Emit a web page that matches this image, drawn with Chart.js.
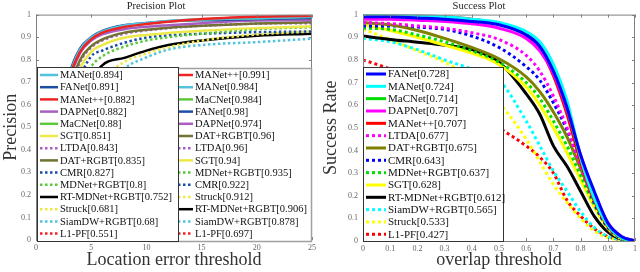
<!DOCTYPE html>
<html>
<head>
<meta charset="utf-8">
<script src="https://cdn.jsdelivr.net/npm/chart.js@4.4.1/dist/chart.umd.min.js"></script>
<style>
  html, body { margin: 0; padding: 0; background: #fff; }
  .wrap { display: flex; width: 640px; height: 272px; }
</style>
</head>
<body>
<div class="wrap">
  <canvas id="precChart" width="320" height="272"></canvas>
  <canvas id="succChart" width="320" height="272"></canvas>
</div>
<script>
// ---- precision plot data (location error threshold, px) ----
const precX = [0, 1, 2, 3, 4, 5, 6, 8, 10, 12, 15, 20, 25];
const pMANetPP = [0, 0.12, 0.42, 0.71, 0.835, 0.89, 0.92, 0.945, 0.958, 0.968, 0.98, 0.99, 0.995];
const pMANet   = [0, 0.13, 0.45, 0.72, 0.845, 0.897, 0.925, 0.952, 0.962, 0.972, 0.978, 0.984, 0.99];
const pMaCNet  = [0, 0.12, 0.44, 0.71, 0.84, 0.893, 0.922, 0.947, 0.96, 0.97, 0.978, 0.984, 0.99];
const pFANet   = [0, 0.14, 0.46, 0.73, 0.85, 0.9, 0.928, 0.953, 0.963, 0.97, 0.975, 0.98, 0.985];
const pDAPNet  = [0, 0.12, 0.43, 0.7, 0.83, 0.885, 0.912, 0.935, 0.946, 0.953, 0.962, 0.974, 0.975];
const pDAT     = [0, 0.1, 0.38, 0.66, 0.8, 0.86, 0.89, 0.92, 0.933, 0.942, 0.95, 0.96, 0.966];
const pLTDA    = [0, 0.1, 0.37, 0.65, 0.79, 0.855, 0.885, 0.915, 0.93, 0.94, 0.95, 0.96, 0.962];
const pSGT     = [0, 0.09, 0.33, 0.6, 0.76, 0.835, 0.865, 0.897, 0.91, 0.918, 0.928, 0.94, 0.948];
const pMDNet   = [0, 0.07, 0.27, 0.5, 0.68, 0.77, 0.815, 0.858, 0.885, 0.9, 0.915, 0.935, 0.944];
const pCMR     = [0, 0.08, 0.3, 0.55, 0.72, 0.815, 0.84, 0.875, 0.898, 0.908, 0.915, 0.922, 0.925];
const pStruck  = [0, 0.04, 0.16, 0.32, 0.48, 0.62, 0.71, 0.79, 0.828, 0.855, 0.885, 0.912, 0.925];
const pRTMDNet = [0, 0.05, 0.2, 0.37, 0.5, 0.7, 0.775, 0.808, 0.84, 0.865, 0.885, 0.906, 0.915];
const pSiamDW  = [0, 0.03, 0.12, 0.25, 0.4, 0.55, 0.64, 0.76, 0.81, 0.845, 0.865, 0.878, 0.893];
const pL1PF    = [0, 0.03, 0.11, 0.22, 0.33, 0.42, 0.5, 0.58, 0.62, 0.645, 0.67, 0.697, 0.71];

const precNames  = ['MANet++', 'MANet', 'MaCNet', 'FANet', 'DAPNet', 'DAT+RGBT', 'LTDA', 'SGT',
                    'MDNet+RGBT', 'CMR', 'Struck', 'RT-MDNet+RGBT', 'SiamDW+RGBT', 'L1-PF'];
const precSeries = [pMANetPP, pMANet, pMaCNet, pFANet, pDAPNet, pDAT, pLTDA, pSGT,
                    pMDNet, pCMR, pStruck, pRTMDNet, pSiamDW, pL1PF];
const precScores = ['0.991', '0.984', '0.984', '0.98', '0.974', '0.96', '0.96', '0.94',
                    '0.935', '0.922', '0.912', '0.906', '0.878', '0.697'];
// second (front) legend of the precision plot
const precNames2  = ['MANet', 'FANet', 'MANet++', 'DAPNet', 'MaCNet', 'SGT', 'LTDA', 'DAT+RGBT',
                     'CMR', 'MDNet+RGBT', 'RT-MDNet+RGBT', 'Struck', 'SiamDW+RGBT', 'L1-PF'];
const precScores2 = ['0.894', '0.891', '0.882', '0.882', '0.88', '0.851', '0.843', '0.835',
                     '0.827', '0.8', '0.752', '0.681', '0.68', '0.551'];

// ---- success plot data (overlap threshold) ----
const succX = [0, 0.1, 0.2, 0.3, 0.4, 0.5, 0.6, 0.65, 0.7, 0.75, 0.8, 0.85, 0.9, 0.95, 1];
const sFANet   = [0.99, 0.99, 0.985, 0.98, 0.97, 0.955, 0.91, 0.86, 0.75, 0.59, 0.38, 0.22, 0.08, 0.02, 0];
const sMANet   = [1, 0.998, 0.995, 0.99, 0.98, 0.965, 0.925, 0.88, 0.78, 0.62, 0.37, 0.19, 0.07, 0.015, 0];
const sMaCNet  = [0.995, 0.993, 0.99, 0.985, 0.975, 0.96, 0.915, 0.86, 0.76, 0.59, 0.37, 0.19, 0.07, 0.015, 0];
const sDAPNet  = [0.98, 0.98, 0.975, 0.97, 0.96, 0.94, 0.895, 0.84, 0.74, 0.58, 0.38, 0.21, 0.08, 0.02, 0];
const sMANetPP = [1, 0.998, 0.995, 0.99, 0.98, 0.96, 0.91, 0.85, 0.73, 0.56, 0.35, 0.18, 0.065, 0.015, 0];
const sLTDA    = [0.965, 0.96, 0.95, 0.94, 0.92, 0.89, 0.82, 0.75, 0.64, 0.5, 0.33, 0.18, 0.07, 0.015, 0];
const sDAT     = [0.965, 0.955, 0.93, 0.895, 0.855, 0.805, 0.725, 0.66, 0.57, 0.46, 0.32, 0.18, 0.07, 0.015, 0];
const sCMR     = [0.95, 0.95, 0.945, 0.935, 0.905, 0.855, 0.77, 0.71, 0.61, 0.49, 0.33, 0.17, 0.06, 0.012, 0];
const sMDNet   = [0.94, 0.935, 0.91, 0.88, 0.84, 0.79, 0.7, 0.63, 0.53, 0.42, 0.29, 0.16, 0.06, 0.012, 0];
const sSGT     = [0.955, 0.93, 0.9, 0.865, 0.83, 0.78, 0.68, 0.6, 0.5, 0.39, 0.27, 0.15, 0.055, 0.01, 0];
const sRTMDNet = [0.905, 0.89, 0.878, 0.865, 0.845, 0.79, 0.65, 0.56, 0.42, 0.33, 0.22, 0.11, 0.04, 0.008, 0];
const sSiamDW  = [0.895, 0.88, 0.845, 0.8, 0.76, 0.71, 0.53, 0.42, 0.31, 0.22, 0.13, 0.06, 0.02, 0.005, 0];
const sStruck  = [0.935, 0.89, 0.84, 0.79, 0.72, 0.61, 0.45, 0.35, 0.25, 0.17, 0.1, 0.045, 0.015, 0.003, 0];
const sL1PF    = [0.8, 0.76, 0.71, 0.65, 0.58, 0.5, 0.42, 0.37, 0.3, 0.18, 0.11, 0.055, 0.02, 0.005, 0];

const succNames  = ['FANet', 'MANet', 'MaCNet', 'DAPNet', 'MANet++', 'LTDA', 'DAT+RGBT', 'CMR',
                    'MDNet+RGBT', 'SGT', 'RT-MDNet+RGBT', 'SiamDW+RGBT', 'Struck', 'L1-PF'];
const succSeries = [sFANet, sMANet, sMaCNet, sDAPNet, sMANetPP, sLTDA, sDAT, sCMR,
                    sMDNet, sSGT, sRTMDNet, sSiamDW, sStruck, sL1PF];
const succScores = ['0.728', '0.724', '0.714', '0.707', '0.707', '0.677', '0.675', '0.643',
                    '0.637', '0.628', '0.612', '0.565', '0.533', '0.427'];

// line styles: [colour, dotted]
const precStyle = {
  'MANet++': ['#ee2424', false], 'MANet': ['#52c3dc', false], 'MaCNet': ['#5ec83c', false],
  'FANet': ['#1c4ea4', false], 'DAPNet': ['#a85ec0', false], 'DAT+RGBT': ['#727234', false],
  'LTDA': ['#a85ec0', true], 'SGT': ['#ece84a', false], 'MDNet+RGBT': ['#5ec83c', true],
  'CMR': ['#1c4ea4', true], 'Struck': ['#ece84a', true], 'RT-MDNet+RGBT': ['#000000', false],
  'SiamDW+RGBT': ['#52c3dc', true], 'L1-PF': ['#ee2424', true]
};
const succStyle = {
  'FANet': ['#0000ff', false], 'MANet': ['#00ffff', false], 'MaCNet': ['#00dd00', false],
  'DAPNet': ['#ff00ff', false], 'MANet++': ['#ff0000', false], 'LTDA': ['#ff00ff', true],
  'DAT+RGBT': ['#808000', false], 'CMR': ['#0000ff', true], 'MDNet+RGBT': ['#00dd00', true],
  'SGT': ['#ffff00', false], 'RT-MDNet+RGBT': ['#000000', false], 'SiamDW+RGBT': ['#00ffff', true],
  'Struck': ['#ffff00', true], 'L1-PF': ['#ff0000', true]
};

Chart.defaults.font.family = "'Liberation Serif', 'DejaVu Serif', serif";
Chart.defaults.color = '#555';

function buildSets(names, series, xs, styles, w, dash) {
  return names.map((n, i) => {
    const st = styles[n];
    return {
      label: n,
      data: series[i].map((v, k) => ({ x: xs[k], y: v })),
      borderColor: st[0],
      borderWidth: w,
      borderDash: st[1] ? dash : [],
      pointRadius: 0,
      cubicInterpolationMode: 'monotone',
      fill: false
    };
  });
}

const tickFmt = v => String(Math.round(v * 10) / 10);

// axes box with inward ticks, like the original figure
const framePlugin = {
  id: 'frame',
  afterDatasetsDraw(chart) {
    const { ctx, chartArea: a, scales } = chart;
    ctx.save();
    ctx.strokeStyle = '#808080';
    ctx.lineWidth = 1;
    ctx.strokeRect(a.left + 0.5, a.top + 0.5, a.right - a.left - 1, a.bottom - a.top);
    ctx.beginPath();
    scales.x.ticks.forEach(t => {
      const px = Math.round(scales.x.getPixelForValue(t.value)) + 0.5;
      ctx.moveTo(px, a.bottom); ctx.lineTo(px, a.bottom - 3);
      ctx.moveTo(px, a.top); ctx.lineTo(px, a.top + 3);
    });
    scales.y.ticks.forEach(t => {
      const py = Math.round(scales.y.getPixelForValue(t.value)) + 0.5;
      ctx.moveTo(a.left, py); ctx.lineTo(a.left + 3, py);
      ctx.moveTo(a.right, py); ctx.lineTo(a.right - 3, py);
    });
    ctx.stroke();
    ctx.restore();
  }
};

// boxed legends drawn inside the plot area
const boxLegendPlugin = {
  id: 'boxLegend',
  afterDatasetsDraw(chart, args, opts) {
    const ctx = chart.ctx;
    (opts.boxes || []).forEach(b => {
      ctx.save();
      ctx.fillStyle = '#fff';
      ctx.fillRect(b.x, b.y, b.w, b.h);
      ctx.strokeStyle = b.border;
      ctx.lineWidth = b.borderWidth;
      ctx.strokeRect(b.x + 0.5, b.y + 0.5, b.w - 1, b.h - 1);
      ctx.font = b.fontSize + "px 'Liberation Serif', serif";
      ctx.textBaseline = 'middle';
      ctx.textAlign = 'left';
      b.names.forEach((n, i) => {
        const st = b.styles[n];
        const yy = b.rowY + i * b.rowStep;
        ctx.strokeStyle = st[0];
        ctx.lineWidth = b.lineWidth;
        ctx.setLineDash(st[1] ? b.dash : []);
        ctx.beginPath();
        ctx.moveTo(b.lineX0, yy);
        ctx.lineTo(b.lineX1, yy);
        ctx.stroke();
        ctx.setLineDash([]);
        ctx.fillStyle = '#111';
        ctx.fillText(n + '[' + b.scores[i] + ']', b.textX, yy + 0.5);
      });
      ctx.restore();
    });
  }
};

new Chart(document.getElementById('precChart'), {
  type: 'line',
  data: { datasets: buildSets(precNames, precSeries, precX, precStyle, 2.5, [2.5, 2.5]) },
  plugins: [framePlugin, boxLegendPlugin],
  options: {
    responsive: false,
    animation: false,
    layout: { padding: { left: 0, right: 8, top: 0, bottom: 0 } },
    plugins: {
      legend: { display: false },
      tooltip: { enabled: false },
      title: { display: true, text: 'Precision Plot', color: '#222',
               font: { size: 10.5, weight: 'normal' }, padding: { top: 0, bottom: 2 } },
      boxLegend: {
        boxes: [
          { x: 150, y: 68, w: 162, h: 174, border: '#a0a0a0', borderWidth: 1.5,
            names: precNames, scores: precScores, styles: precStyle,
            lineX0: 173, lineX1: 193, textX: 195, rowY: 75, rowStep: 12.2,
            fontSize: 10.5, lineWidth: 2.5, dash: [2.5, 2.5] },
          { x: 37, y: 67, w: 142, h: 175, border: '#333', borderWidth: 1,
            names: precNames2, scores: precScores2, styles: precStyle,
            lineX0: 40, lineX1: 58, textX: 60, rowY: 75, rowStep: 12.2,
            fontSize: 10.5, lineWidth: 2.5, dash: [2.5, 2.5] }
        ]
      }
    },
    scales: {
      x: {
        type: 'linear', min: 0, max: 25,
        ticks: { stepSize: 5, padding: 3, font: { size: 8 }, color: '#666' },
        grid: { display: false, drawTicks: false },
        border: { display: false },
        title: { display: true, text: 'Location error threshold', color: '#333',
                 font: { size: 18 }, padding: { top: 0, bottom: 1 } },
        afterFit(s) { s.height = 32; }
      },
      y: {
        min: 0, max: 1,
        ticks: { stepSize: 0.1, padding: 5, font: { size: 8 }, color: '#666', callback: tickFmt },
        grid: { display: false, drawTicks: false },
        border: { display: false },
        title: { display: true, text: 'Precision', color: '#333',
                 font: { size: 18 }, padding: { top: 0, bottom: 0 } },
        afterFit(s) { s.width = 36; }
      }
    }
  }
});

new Chart(document.getElementById('succChart'), {
  type: 'line',
  data: { datasets: buildSets(succNames, succSeries, succX, succStyle, 3, [3, 3]) },
  plugins: [framePlugin, boxLegendPlugin],
  options: {
    responsive: false,
    animation: false,
    layout: { padding: { left: 0, right: 2, top: 0, bottom: 0 } },
    plugins: {
      legend: { display: false },
      tooltip: { enabled: false },
      title: { display: true, text: 'Success Plot', color: '#222',
               font: { size: 10.5, weight: 'normal' }, padding: { top: 0, bottom: 2 } },
      boxLegend: {
        boxes: [
          { x: 43, y: 67, w: 141, h: 175, border: '#333', borderWidth: 1,
            names: succNames, scores: succScores, styles: succStyle,
            lineX0: 46, lineX1: 66, textX: 68, rowY: 74, rowStep: 12.33,
            fontSize: 11, lineWidth: 3, dash: [3, 3] }
        ]
      }
    },
    scales: {
      x: {
        type: 'linear', min: 0, max: 1,
        ticks: { stepSize: 0.1, padding: 3, font: { size: 8 }, color: '#666', callback: tickFmt },
        grid: { display: false, drawTicks: false },
        border: { display: false },
        title: { display: true, text: 'overlap threshold', color: '#333',
                 font: { size: 18 }, padding: { top: 0, bottom: 1 } },
        afterFit(s) { s.height = 31; }
      },
      y: {
        min: 0, max: 1,
        ticks: { stepSize: 0.1, padding: 5, font: { size: 8 }, color: '#666', callback: tickFmt },
        grid: { display: false, drawTicks: false },
        border: { display: false },
        title: { display: true, text: 'Success Rate', color: '#333',
                 font: { size: 18 }, padding: { top: 0, bottom: 0 } },
        afterFit(s) { s.width = 43; }
      }
    }
  }
});
</script>
</body>
</html>
